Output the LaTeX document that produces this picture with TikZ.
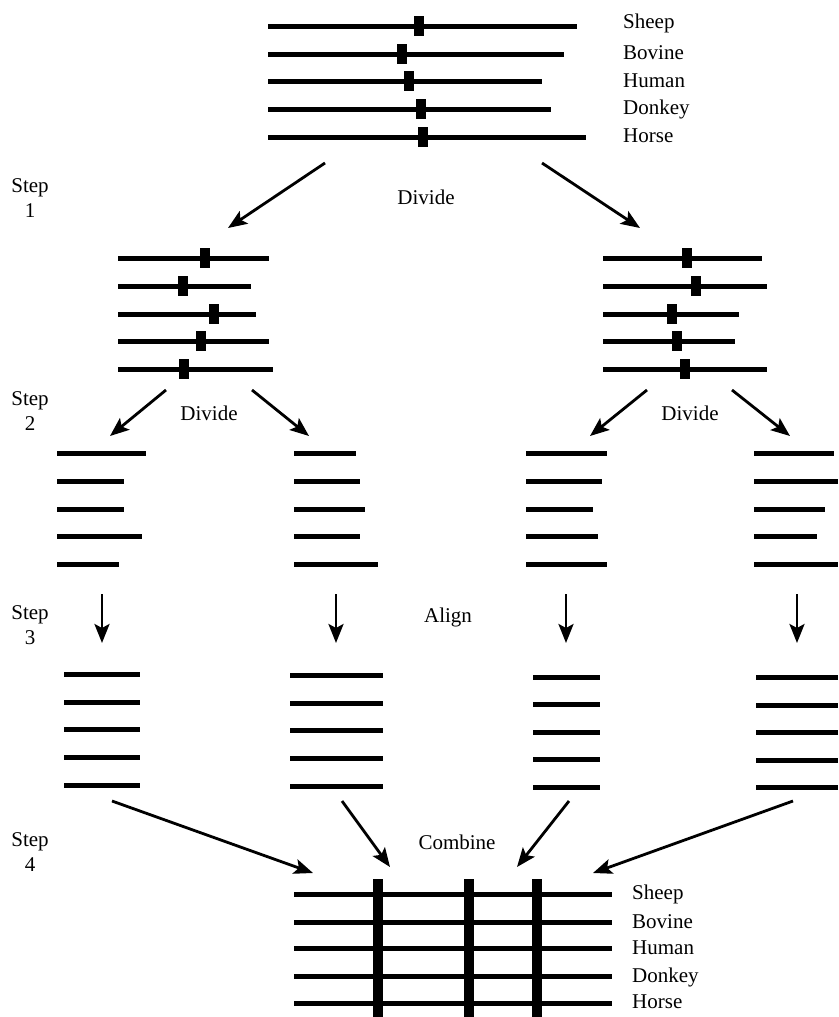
\documentclass[tikz,border=0pt]{standalone}
\usepackage{fontspec}
\setmainfont{Liberation Serif}
\usetikzlibrary{arrows.meta,positioning}
\tikzset{
	alignment steps/.style={
		x=1pt,y=-1pt, % one unit per pixel, y grows downwards
		font=\fontsize{21}{25}\selectfont,
		sequence line/.style={line width=5pt},
		conserved site/.style={
			rectangle,
			fill,
			inner sep=0pt,
			minimum width=10pt,
			minimum height=20pt
		},
		column bar/.style={line width=10pt},
		flow arrow/.style={
			line width=2.8pt,
			-{Stealth[length=19pt,width=15pt,inset=4pt]}
		},
		step label/.style={
			align=center,
			inner sep=0pt
		},
		species name/.style={
			anchor=base west,
			inner sep=0pt
		},
		action/.style={inner sep=0pt}
	}
}

\begin{document}
\begin{tikzpicture}[alignment steps]
	\useasboundingbox (0,0) rectangle (838,1017);

	% full sequences
	\foreach \y/\e/\m [count=\i] in {26/577/419,54/564/402,81/542/409,109/551/421,137/586/423}{
		\draw[sequence line] (268,\y) -- (\e,\y);
		\node[conserved site] (full site \i) at (\m,\y) {};
	}
	\foreach \y/\s in {28/Sheep,59/Bovine,87/Human,114/Donkey,142/Horse}
		\node[species name] (top \s) at (623,\y) {\s};

	% first split
	\foreach \y/\e/\m [count=\i] in {258/269/205,286/251/183,314/256/214,341/269/201,369/273/184}{
		\draw[sequence line] (118,\y) -- (\e,\y);
		\node[conserved site] (left site \i) at (\m,\y) {};
	}
	\foreach \y/\e/\m [count=\i] in {258/762/687,286/767/696,314/739/672,341/735/677,369/767/685}{
		\draw[sequence line] (603,\y) -- (\e,\y);
		\node[conserved site] (right site \i) at (\m,\y) {};
	}

	% second split
	\foreach \y/\e in {453/146,481/124,509/124,536/142,564/119}
		\draw[sequence line] (57,\y) -- (\e,\y);
	\foreach \y/\e in {453/356,481/360,509/365,536/360,564/378}
		\draw[sequence line] (294,\y) -- (\e,\y);
	\foreach \y/\e in {453/607,481/602,509/593,536/598,564/607}
		\draw[sequence line] (526,\y) -- (\e,\y);
	\foreach \y/\e in {453/834,481/838,509/825,536/817,564/838}
		\draw[sequence line] (754,\y) -- (\e,\y);

	% aligned blocks
	\foreach \y in {674,702,729,757,785}
		\draw[sequence line] (64,\y) -- (140,\y);
	\foreach \y in {675,703,730,758,786}
		\draw[sequence line] (290,\y) -- (383,\y);
	\foreach \y in {677,704,732,759,787}
		\draw[sequence line] (533,\y) -- (600,\y);
	\foreach \y in {677,705,732,760,787}
		\draw[sequence line] (756,\y) -- (838,\y);

	% combined alignment
	\foreach \y in {894,922,948,976,1003}
		\draw[sequence line] (294,\y) -- (612,\y);
	\foreach \x [count=\i] in {378,469,537}
		\draw[column bar] (\x,879) -- (\x,1017);
	\foreach \y/\s in {899/Sheep,928/Bovine,954/Human,982/Donkey,1008/Horse}
		\node[species name] (bottom \s) at (632,\y) {\s};

	% arrow ends
	\coordinate (split a) at (325,163);
	\coordinate (split b) at (542,163);
	\coordinate (left half) at (228,228);
	\coordinate (right half) at (640,228);
	\coordinate (left a) at (166,390);
	\coordinate (left b) at (252,390);
	\coordinate (right a) at (647,390);
	\coordinate (right b) at (732,390);
	\coordinate (part 1) at (110,436);
	\coordinate (part 2) at (309,436);
	\coordinate (part 3) at (590,436);
	\coordinate (part 4) at (790,436);
	\foreach \x [count=\i] in {102,336,566,797}{
		\coordinate (raw \i) at (\x,594);
		\coordinate (aligned \i) at (\x,643);
	}
	\coordinate (out 1) at (112,801);
	\coordinate (out 2) at (342,801);
	\coordinate (out 3) at (569,801);
	\coordinate (out 4) at (793,801);
	\coordinate (in 1) at (313,873);
	\coordinate (in 2) at (390,867);
	\coordinate (in 3) at (517,867);
	\coordinate (in 4) at (593,873);

	% arrows
	\draw[flow arrow] (split a) -- (left half);
	\draw[flow arrow] (split b) -- (right half);
	\draw[flow arrow] (left a) -- (part 1);
	\draw[flow arrow] (left b) -- (part 2);
	\draw[flow arrow] (right a) -- (part 3);
	\draw[flow arrow] (right b) -- (part 4);
	\foreach \i in {1,...,4}{
		\draw[flow arrow] (raw \i) -- (aligned \i);
		\draw[flow arrow] (out \i) -- (in \i);
	}

	% captions
	\node[action] (divide top) at (426,197) {Divide};
	\node[action] (divide left) at (209,413) {Divide};
	\node[action] (divide right) at (690,413) {Divide};
	\node[action] (align) at (448,617) {Align};
	\node[action] (combine) at (457,842) {Combine};
	\node[step label] (step 1) at (30,198) {Step\\1};
	\node[step label] (step 2) at (30,411) {Step\\2};
	\node[step label] (step 3) at (30,625) {Step\\3};
	\node[step label] (step 4) at (30,852) {Step\\4};
\end{tikzpicture}
\end{document}
